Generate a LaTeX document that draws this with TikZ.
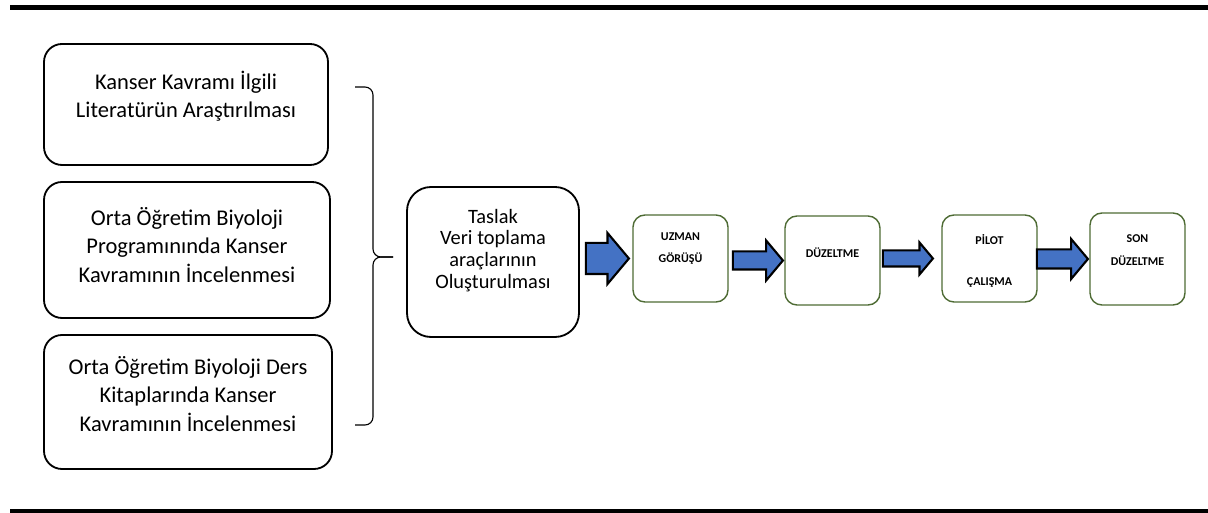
\documentclass[tikz,border=0pt]{standalone}
\usepackage{fontspec}
\setmainfont{Carlito}
\usepackage{xcolor}
\definecolor{ArrowBlue}{HTML}{4472C4}
\definecolor{BoxGreen}{HTML}{4E6B34}
\usepackage{tikz}
\usetikzlibrary{calc, positioning, shapes.arrows}

\begin{document}
\begin{tikzpicture}[
  bigbox/.style={draw, line width=1.3pt, rounded corners=0.45cm},
  smallbox/.style={draw=BoxGreen, line width=1pt, rounded corners=0.3cm, minimum width=2.375cm},
  bigtext/.style={align=center, font=\fontsize{16}{20}\selectfont},
  smalltext/.style={align=center, font=\bfseries\fontsize{8.5}{16}\selectfont},
  blockarrow/.style={single arrow, draw=black, fill=ArrowBlue, line width=1.5pt,
    inner xsep=0pt, single arrow tip angle=100, anchor=tip}
]
  \useasboundingbox (0,0) rectangle (30.2,12.825);
  % top and bottom rules
  \draw[line width=0.125cm] (0.25,12.6375) -- (30.2,12.6375);
  \draw[line width=0.1cm] (0.25,0.05) -- (30.2,0.05);

  % sources
  \node[bigbox, minimum width=7.1cm, minimum height=3.025cm] (lit) at (4.65,10.2125) {};
  \node[bigtext] (lit-t) at ([yshift=0.21cm]lit.center) {Kanser Kavramı İlgili\\Literatürün Araştırılması};
  \node[bigbox, minimum width=7.15cm, minimum height=3.4cm] (prog) at (4.675,6.575) {};
  \node[bigtext] (prog-t) at ([yshift=0.125cm]prog.center) {Orta Öğretim Biyoloji\\Programınında Kanser\\Kavramının İncelenmesi};
  \node[bigbox, minimum width=7.2cm, minimum height=3.35cm] (kitap) at (4.70,2.775) {};
  \node[bigtext] (kitap-t) at ([yshift=0.2cm]kitap.center) {Orta Öğretim Biyoloji Ders\\Kitaplarında Kanser\\Kavramının İncelenmesi};

  % draft
  \node[bigbox, rounded corners=0.6cm, minimum width=4.3cm, minimum height=3.75cm] (taslak) at (12.325,6.275) {};
  \node[align=center, font=\fontsize{14.5}{15.5}\selectfont] (taslak-t) at ([yshift=0.29cm]taslak.center) {Taslak\\Veri toplama\\araçlarının\\Oluşturulması};

  % brace
  \coordinate (brace-top) at (8.875,10.65);
  \coordinate (brace-mid) at (9.325,6.4);
  \coordinate (brace-tip) at (9.825,6.4);
  \coordinate (brace-bot) at (8.875,2.2);
  \draw[line width=0.8pt, rounded corners=0.2cm] (brace-top) -| (brace-mid) -- (brace-tip);
  \draw[line width=0.8pt, rounded corners=0.2cm] (brace-tip) -- (brace-mid) |- (brace-bot);

  % steps
  \node[smallbox, minimum height=2.175cm] (uzman) at (17.0125,6.3625) {};
  \node[smalltext] (uzman-t) at ([yshift=0.25cm]uzman.center) {UZMAN\\GÖRÜŞÜ};
  \node[smallbox, minimum height=2.225cm] (duzelt) at (20.8125,6.3125) {};
  \node[smalltext] (duzelt-t) at ([yshift=0.19cm]duzelt.center) {DÜZELTME};
  \node[smallbox, minimum height=2.175cm] (pilot) at (24.7375,6.3625) {};
  \node[smalltext] (pilot-t) at ([yshift=-0.06cm]pilot.center) {PİLOT\\[13pt]ÇALIŞMA};
  \node[smallbox, minimum height=2.3cm] (son) at (28.4375,6.35) {};
  \node[smalltext] (son-t) at ([yshift=0.225cm]son.center) {SON\\DÜZELTME};

  % block arrows
  \node[blockarrow, minimum height=1.075cm, inner ysep=0.3625cm, single arrow head extend=0.25cm] (ok1) at ([xshift=-0.05cm]uzman.west) {};
  \node[blockarrow, minimum height=1.25cm, inner ysep=0.2cm, single arrow head extend=0.275cm] (ok2) at (duzelt.west) {};
  \node[blockarrow, minimum height=1.25cm, inner ysep=0.175cm, single arrow head extend=0.2cm] (ok3) at ([xshift=-0.175cm]pilot.west) {};
  \node[blockarrow, minimum height=1.275cm, inner ysep=0.2125cm, single arrow head extend=0.26cm] (ok4) at (son.west) {};
\end{tikzpicture}
\end{document}
